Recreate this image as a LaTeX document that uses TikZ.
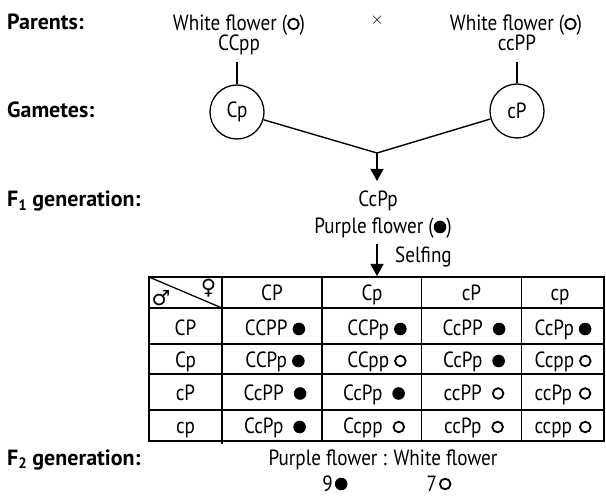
\documentclass[tikz,border=0pt]{standalone}
\usepackage{fontspec}
\setmainfont[FakeStretch=0.87]{PT Sans}
\newfontfamily\lblfont{PT Sans}
\newfontfamily\symfont{DejaVu Sans}
\usetikzlibrary{arrows.meta}
\newcommand{\bkdot}{\tikz[baseline=-7pt]\fill[black] (0,0) circle[radius=6.3pt];}
\newcommand{\whdot}{\tikz[baseline=-7pt]\draw[black,line width=1.8pt] (0,0) circle[radius=5.3pt];}
\newcommand{\gs}{\hspace{5pt}}
\newcommand{\gl}{\hspace{10pt}}
\begin{document}
\begin{tikzpicture}[x=1pt,y=-1pt,
  txt/.style={font=\fontsize{22}{25}\selectfont, inner sep=0pt, anchor=base},
  lbl/.style={font=\lblfont\fontsize{22}{25}\bfseries, inner sep=0pt, anchor=base west},
  gamete/.style={draw, circle, minimum size=54pt, inner sep=0pt, line width=1.3pt, font=\fontsize{22}{25}\selectfont},
  con/.style={line width=1.4pt},
  arr/.style={line width=1.4pt, -{Triangle[width=13pt,length=12pt]}},
  grid/.style={line width=1.8pt}]
\useasboundingbox (0,0) rectangle (606,497);

% left labels
\node[lbl] (lp) at (7,29.5) {Parents:};
\node[lbl] (lg) at (7,118) {Gametes:};
\node[lbl] (lf1) at (7,207) {F\raisebox{-0.3ex}{\fontsize{15}{15}\selectfont 1} generation:};
\node[lbl] (lf2) at (7,465) {F\raisebox{-0.3ex}{\fontsize{15}{15}\selectfont 2} generation:};

% parents
\node[txt] (p1) at (239,31) {White flower (\whdot)};
\node[txt] (g1) at (239,51) {CCpp};
\node[inner sep=0pt, font=\fontsize{17}{17}\selectfont] (x) at (377,20) {$\times$};
\node[txt] (p2) at (516,31) {White flower (\whdot)};
\node[txt] (g2) at (517,51) {ccPP};

% gametes
\node[gamete] (ga) at (237,112) {Cp};
\node[gamete] (gb) at (517,111) {cP};
\coordinate (t1) at (237,62);
\coordinate (t2) at (517,62);
\draw[con] (t1) -- (ga);
\draw[con] (t2) -- (gb);
\coordinate (J) at (377,153);
\draw[con] (ga) -- (J) -- (gb);
\coordinate (Jt) at (377,181);
\draw[arr] (J) -- (Jt);

% F1
\node[txt] (f1) at (378,207) {CcPp};
\node[txt] (f1p) at (383,234) {Purple flower (\bkdot)};
\coordinate (s1) at (377,244);
\coordinate (s2) at (377,276);
\draw[arr] (s1) -- (s2);
\node[txt, anchor=base west] (self) at (395,263) {Selfing};

% table grid
\draw[grid] (149,277) rectangle (604,441);
\foreach \yy in {308,344,374,410} \draw[grid] (149,\yy) -- (604,\yy);
\draw[grid] (222,277) -- (222,444);
\foreach \xx in {322,421.5,521.5} \draw[grid] (\xx,277) -- (\xx,441);
\draw[line width=1.3pt] (149,277) -- (222,308);
\node[inner sep=0pt, font=\symfont\fontsize{21}{21}\selectfont] (fem) at (208.5,288) {♀};
\node[inner sep=0pt, font=\symfont\fontsize{21}{21}\selectfont] (mal) at (161,298) {♂};

% header
\node[txt] (h1) at (272,301) {CP};
\node[txt] (h2) at (372,301) {Cp};
\node[txt] (h3) at (471.5,301) {cP};
\node[txt] (h4) at (560,301) {cp};
% row labels
\node[txt] (r1) at (185.5,336) {CP};
\node[txt] (r2) at (185.5,368) {Cp};
\node[txt] (r3) at (185.5,400.5) {cP};
\node[txt] (r4) at (185.5,434) {cp};

% cells row 1
\node[txt] (c11) at (275,336) {CCPP\gs\bkdot};
\node[txt] (c12) at (377,336) {CCPp\gs\bkdot};
\node[txt] (c13) at (474,336) {CcPP\gl\bkdot};
\node[txt] (c14) at (563,336) {CcPp\gs\bkdot};
% row 2
\node[txt] (c21) at (275,368) {CCPp\gs\bkdot};
\node[txt] (c22) at (377,368) {CCpp\gs\whdot};
\node[txt] (c23) at (474,368) {CcPp\gl\bkdot};
\node[txt] (c24) at (563,368) {Ccpp\gs\whdot};
% row 3
\node[txt] (c31) at (275,400.5) {CcPP\gl\bkdot};
\node[txt] (c32) at (374,400.5) {CcPp\gl\bkdot};
\node[txt] (c33) at (474,400.5) {ccPP\gl\whdot};
\node[txt] (c34) at (563,400.5) {ccPp\hspace{7pt}\whdot};
% row 4
\node[txt] (c41) at (275,434) {CcPp\gl\bkdot};
\node[txt] (c42) at (374,434) {Ccpp\gl\whdot};
\node[txt] (c43) at (474,434) {ccPp\gl\whdot};
\node[txt] (c44) at (563,434) {ccpp\hspace{7pt}\whdot};

% F2
\node[txt] (f2) at (383,466) {Purple flower : White flower};
\node[txt] (n9) at (335,491) {9\hspace{2pt}\bkdot};
\node[txt] (n7) at (439,491) {7\hspace{2pt}\whdot};
\end{tikzpicture}
\end{document}
